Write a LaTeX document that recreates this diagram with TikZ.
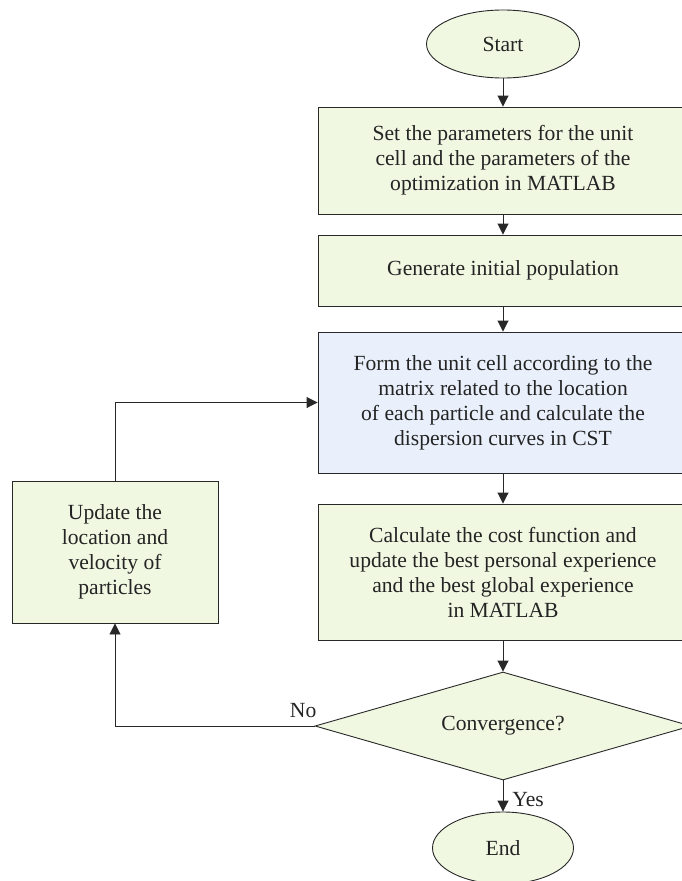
\documentclass[tikz,border=0pt]{standalone}
\usepackage{fontspec}
\setmainfont{Liberation Serif}
\usetikzlibrary{shapes.geometric,arrows.meta}
\definecolor{boxgreen}{RGB}{240,248,226}
\definecolor{boxblue}{RGB}{233,240,251}
\definecolor{edge}{RGB}{40,40,40}
\begin{document}
\begin{tikzpicture}[x=1pt,y=-1pt,
  every node/.style={font=\fontsize{21.6}{25}\selectfont, text=edge!90!black},
  base/.style={draw=edge, line width=0.9pt, align=center, inner sep=0pt},
  procbox/.style={base, rectangle, fill=boxgreen, minimum width=370pt},
  termin/.style={base, ellipse, fill=boxgreen},
  decide/.style={base, diamond, fill=boxgreen, shape aspect=3.5, minimum width=376pt, minimum height=108pt},
  conn/.style={draw=edge, line width=0.9pt, -{Triangle[length=11pt,width=11pt]}},
  lbl/.style={font=\fontsize{21.6}{25}\selectfont, inner sep=1pt}]
\clip (0,0) rectangle (682,881);
\useasboundingbox (0,0) rectangle (682,881);
\node[termin, minimum width=153pt, minimum height=68pt] (start) at (503,44) {Start};
\node[procbox, minimum height=107pt] (b1) at (503,160.5) {Set the parameters for the unit\\cell and the parameters of the\\optimization in MATLAB};
\node[procbox, minimum height=71pt] (b2) at (503,270.5) {Generate initial population};
\node[procbox, fill=boxblue, minimum height=141pt] (b3) at (503,402.5) {Form the unit cell according to the\\matrix related to the location\\of each particle and calculate the\\dispersion curves in CST};
\node[procbox, minimum height=136pt] (b4) at (503,572) {Calculate the cost function and\\update the best personal experience\\and the best global experience\\in MATLAB};
\node[decide] (dia) at (503,726) {Convergence?};
\node[termin, minimum width=141pt, minimum height=72pt] (end) at (503,848) {End};
\node[procbox, minimum width=206pt, minimum height=142pt] (lb) at (115,552) {Update the\\location and\\velocity of\\particles};
\draw[conn] (start) -- (b1);
\draw[conn] (b1) -- (b2);
\draw[conn] (b2) -- (b3);
\draw[conn] (b3) -- (b4);
\draw[conn] (b4) -- (dia);
\draw[conn] (dia) -- node[lbl, anchor=west, xshift=8pt, pos=0.6] (yes) {Yes} (end);
\draw[conn] (dia.west) -| (lb.south);
\node[lbl, anchor=south east, xshift=3pt, yshift=7pt] (no) at (dia.west) {No};
\draw[conn] (lb.north) |- (b3.west);
\end{tikzpicture}
\end{document}
